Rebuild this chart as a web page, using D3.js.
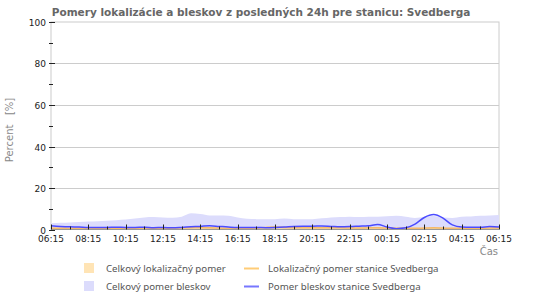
<!DOCTYPE html>
<html>
<head>
<meta charset="utf-8">
<script src="https://cdn.jsdelivr.net/npm/d3@7"></script>
<style>
  body { margin: 0; background: #fff; }
  svg { display: block; }
</style>
</head>
<body>
<div id="chart"></div>
<script>
// half-hour steps from 06:15 (0) to 06:15 next day (24)
var hours = d3.range(0, 24.5, 0.5);
var tickLabels = ["06:15","08:15","10:15","12:15","14:15","16:15","18:15","20:15","22:15","00:15","02:15","04:15","06:15"];

// Celkový pomer bleskov (area)
var totalStrokes = [3.0,3.2,3.4,3.6,3.8,4.0,4.2,4.5,4.8,5.3,5.8,6.0,5.8,5.7,6.2,7.8,7.5,6.8,6.7,6.6,5.8,5.2,5.0,4.9,5.0,5.3,5.0,4.9,5.0,5.4,5.8,6.0,6.2,6.0,6.1,6.2,6.4,6.6,6.2,5.6,6.0,6.5,5.8,5.6,6.2,6.3,6.6,6.8,7.0];
// Celkový lokalizačný pomer (area)
var totalLoc = [0.8,0.8,0.7,0.8,0.9,0.8,0.8,0.7,0.8,0.8,0.9,0.8,0.8,0.9,1.0,1.1,1.2,1.0,0.9,0.8,0.8,0.8,0.9,1.2,1.4,1.2,1.0,1.0,1.1,1.1,1.0,1.0,0.9,0.9,1.0,1.0,0.9,0.8,0.8,0.8,0.9,1.0,0.9,0.8,0.8,0.8,0.8,0.9,0.9];
// Pomer bleskov stanice Svedberga (line)
var stationStrokes = [1.8,1.5,1.3,1.2,1.0,1.0,1.0,1.1,1.0,1.0,1.1,0.9,1.0,0.8,1.0,1.3,1.5,1.8,1.5,1.2,1.0,1.0,1.0,0.9,1.0,1.2,1.5,1.6,1.6,1.7,1.5,1.3,1.4,1.6,1.8,2.4,1.2,0.4,0.8,2.6,5.8,7.2,5.5,2.2,1.2,1.1,1.1,1.4,1.2];
// Lokalizačný pomer stanice Svedberga (line)
var stationLoc = [0.6,0.6,0.5,0.6,0.7,0.6,0.6,0.5,0.6,0.6,0.7,0.6,0.6,0.7,0.8,0.9,1.0,0.8,0.7,0.6,0.6,0.6,0.7,1.0,1.2,1.0,0.8,0.8,0.9,0.9,0.8,0.8,0.7,0.7,0.8,0.8,0.7,0.6,0.6,0.6,0.7,0.8,0.7,0.6,0.6,0.6,0.6,0.7,0.7];

var width = 550, height = 300;
var plotLeft = 51, plotRight = 499, plotTop = 22, plotBottom = 229.5;

var svg = d3.select("#chart").append("svg")
    .attr("width", width)
    .attr("height", height)
    .style("font-family", "'DejaVu Sans', sans-serif");

var x = d3.scaleLinear().domain([0, 24]).range([plotLeft, plotRight]);
var y = d3.scaleLinear().domain([0, 100]).range([plotBottom, plotTop]);

// title
svg.append("text")
    .attr("x", 261).attr("y", 16)
    .attr("text-anchor", "middle")
    .attr("font-size", 10.5).attr("font-weight", "bold")
    .attr("fill", "#666")
    .text("Pomery lokalizácie a bleskov z posledných 24h pre stanicu: Svedberga");

// plot frame + grid
svg.append("rect")
    .attr("x", plotLeft).attr("y", plotTop)
    .attr("width", plotRight - plotLeft).attr("height", plotBottom - plotTop)
    .attr("fill", "none").attr("stroke", "#ccc");

[20, 40, 60, 80].forEach(function(v) {
    svg.append("line")
        .attr("x1", plotLeft).attr("x2", plotRight)
        .attr("y1", Math.round(y(v)) + 0.5).attr("y2", Math.round(y(v)) + 0.5)
        .attr("stroke", "#ccc");
});

// areas
var area = function(vals) {
    return d3.area()
        .x(function(d, i) { return x(hours[i]); })
        .y0(y(0))
        .y1(function(d) { return y(d); })
        .curve(d3.curveMonotoneX)(vals);
};
var line = function(vals) {
    return d3.line()
        .x(function(d, i) { return x(hours[i]); })
        .y(function(d) { return y(d); })
        .curve(d3.curveMonotoneX)(vals);
};

svg.append("path").attr("d", area(totalStrokes)).attr("fill", "#dcdcfc");
svg.append("path").attr("d", area(totalLoc)).attr("fill", "#f2d6a8");
svg.append("path").attr("d", line(stationLoc)).attr("fill", "none")
    .attr("stroke", "#f5b96a").attr("stroke-width", 1.5);
svg.append("path").attr("d", line(stationStrokes)).attr("fill", "none")
    .attr("stroke", "#4b4bff").attr("stroke-width", 1.5);

// y axis ticks and labels
d3.range(0, 101, 10).forEach(function(v) {
    var yy = Math.round(y(v)) + 0.5;
    var major = v % 20 == 0;
    svg.append("line")
        .attr("x1", 49).attr("x2", major ? 55 : 53)
        .attr("y1", yy).attr("y2", yy)
        .attr("stroke", "#222");
    if (major) {
        svg.append("text")
            .attr("x", 46).attr("y", yy + 3.5)
            .attr("text-anchor", "end")
            .attr("font-size", 9).attr("fill", "#222")
            .text(v);
    }
});

// bottom axis line
svg.append("line")
    .attr("x1", plotLeft).attr("x2", plotRight)
    .attr("y1", plotBottom).attr("y2", plotBottom)
    .attr("stroke", "#999");

// x ticks, hourly
d3.range(0, 25, 1).forEach(function(h) {
    var xx = Math.round(x(h)) + 0.5;
    svg.append("line")
        .attr("x1", xx).attr("x2", xx)
        .attr("y1", plotBottom - (h % 2 == 0 ? 5 : 3)).attr("y2", plotBottom)
        .attr("stroke", "#222");
});
tickLabels.forEach(function(t, i) {
    svg.append("text")
        .attr("x", x(i * 2)).attr("y", 242)
        .attr("text-anchor", "middle")
        .attr("font-size", 9).attr("fill", "#222")
        .text(t);
});

// axis titles
svg.append("text")
    .attr("transform", "translate(13,130) rotate(-90)")
    .attr("text-anchor", "middle")
    .attr("font-size", 10).attr("fill", "#888")
    .attr("xml:space", "preserve")
    .text("Percent   [%]");

svg.append("text")
    .attr("x", 498).attr("y", 255)
    .attr("text-anchor", "end")
    .attr("font-size", 10).attr("fill", "#888")
    .text("Čas");

// legend
var legend = svg.append("g").style("font-family", "'Noto Sans', sans-serif");
var leg = [
    {label: "Celkový lokalizačný pomer", color: "#ffe4b5", kind: "box", row: 0},
    {label: "Celkový pomer bleskov", color: "#dcdcfc", kind: "box", row: 1},
    {label: "Lokalizačný pomer stanice Svedberga", color: "#ffcc77", kind: "line", row: 0},
    {label: "Pomer bleskov stanice Svedberga", color: "#7777ff", kind: "line", row: 1}
];
leg.forEach(function(d) {
    var ly = 270 + d.row * 18;
    var tx = d.kind == "box" ? 106 : 268;
    if (d.kind == "box") {
        legend.append("rect")
            .attr("x", 84).attr("y", ly - 7)
            .attr("width", 10).attr("height", 10)
            .attr("fill", d.color);
    } else {
        legend.append("line")
            .attr("x1", 244).attr("x2", 259)
            .attr("y1", ly - 1.5).attr("y2", ly - 1.5)
            .attr("stroke", d.color).attr("stroke-width", 2);
    }
    legend.append("text")
        .attr("x", tx).attr("y", ly + 2)
        .attr("font-size", 9.7).attr("fill", "#555")
        .text(d.label);
});
</script>
</body>
</html>
